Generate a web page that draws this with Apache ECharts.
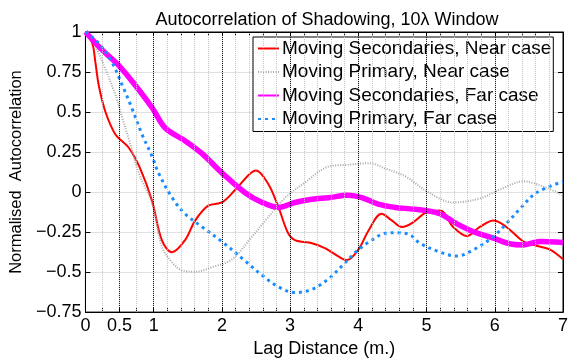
<!DOCTYPE html>
<html>
<head>
<meta charset="utf-8">
<script src="https://cdn.jsdelivr.net/npm/echarts@6/dist/echarts.min.js"></script>
<style>
html, body { margin: 0; padding: 0; background: #fff; }
#chart { width: 573px; height: 363px; }
</style>
</head>
<body>
<div id="chart"></div>
<script>
// lag distance (m.) and autocorrelation
var secNearLag = [0, 0.1, 0.146, 0.195, 0.29, 0.44, 0.63, 0.8, 0.976, 1.12, 1.27, 1.46, 1.61, 1.8, 2.0, 2.2, 2.4, 2.5, 2.68, 2.83, 2.97, 3.07, 3.32, 3.51, 3.7, 3.83, 4.0, 4.15, 4.34, 4.49, 4.64, 4.8, 5.0, 5.2, 5.39, 5.59, 5.78, 5.98, 6.17, 6.42, 6.61, 6.81, 7.0];
var secNearVal = [1, 0.93, 0.81, 0.667, 0.505, 0.36, 0.28, 0.15, -0.055, -0.30, -0.376, -0.30, -0.177, -0.085, -0.065, 0.016, 0.11, 0.135, 0.05, -0.096, -0.256, -0.30, -0.32, -0.35, -0.40, -0.425, -0.36, -0.24, -0.136, -0.177, -0.218, -0.19, -0.126, -0.116, -0.218, -0.274, -0.218, -0.177, -0.218, -0.309, -0.335, -0.36, -0.42];

var primNearLag = [0, 0.146, 0.29, 0.44, 0.54, 0.63, 0.78, 0.98, 1.12, 1.27, 1.42, 1.61, 1.85, 2.15, 2.42, 2.64, 2.93, 3.22, 3.56, 3.83, 4.17, 4.39, 4.69, 5.0, 5.39, 5.78, 6.1, 6.42, 6.76, 7.0];
var primNearVal = [1, 0.91, 0.77, 0.606, 0.463, 0.34, 0.12, -0.075, -0.34, -0.44, -0.49, -0.498, -0.47, -0.42, -0.29, -0.177, -0.035, 0.06, 0.159, 0.17, 0.18, 0.148, 0.098, 0.006, -0.065, -0.04, 0.02, 0.067, 0.026, -0.02];

var secFarLag = [0, 0.24, 0.49, 0.73, 0.98, 1.17, 1.46, 1.71, 2.0, 2.34, 2.59, 2.83, 3.07, 3.32, 3.56, 3.85, 4.05, 4.29, 4.54, 4.76, 5.0, 5.2, 5.44, 5.69, 5.98, 6.22, 6.42, 6.66, 7.0];
var secFarVal = [1, 0.89, 0.79, 0.667, 0.525, 0.40, 0.32, 0.24, 0.12, -0.004, -0.065, -0.096, -0.065, -0.045, -0.035, -0.02, -0.035, -0.075, -0.096, -0.105, -0.116, -0.136, -0.197, -0.248, -0.288, -0.323, -0.33, -0.309, -0.315];

var primFarLag = [0, 0.195, 0.39, 0.54, 0.68, 0.83, 0.98, 1.07, 1.27, 1.46, 1.71, 2.0, 2.34, 2.59, 2.83, 3.07, 3.32, 3.56, 3.81, 4.0, 4.2, 4.39, 4.59, 4.76, 4.9, 5.2, 5.44, 5.69, 5.98, 6.17, 6.37, 6.61, 7.0];
var primFarVal = [1, 0.93, 0.81, 0.667, 0.525, 0.36, 0.22, 0.12, -0.035, -0.136, -0.218, -0.309, -0.43, -0.52, -0.593, -0.628, -0.608, -0.543, -0.44, -0.36, -0.30, -0.258, -0.254, -0.268, -0.319, -0.376, -0.40, -0.36, -0.278, -0.197, -0.105, -0.004, 0.065];

var xLabels = [0, 0.5, 1, 2, 3, 4, 5, 6, 7];
var xMajorGrid = [0.5, 1, 2, 3, 4, 5, 6];
var xMinorGrid = [0.25, 0.75, 1.2, 1.4, 1.6, 1.8, 2.2, 2.4, 2.6, 2.8, 3.2, 3.4, 3.6, 3.8, 4.2, 4.4, 4.6, 4.8, 5.2, 5.4, 5.6, 5.8, 6.2, 6.4, 6.6, 6.8];
var xTicks = xLabels.concat(xMinorGrid);

var names = ['Moving Secondaries, Near case', 'Moving Primary, Near case', 'Moving Secondaries, Far case', 'Moving Primary, Far case'];

function pairs(xs, ys) {
    return xs.map(function (x, i) { return [x, ys[i]]; });
}

var font = 'Liberation Sans, Arial, Helvetica, sans-serif';
var chart = echarts.init(document.getElementById('chart'));

var vLines = xMinorGrid.map(function (x) {
    return { xAxis: x, lineStyle: { color: '#c4c4c4', type: 'dotted', width: 1 } };
}).concat(xMajorGrid.map(function (x) {
    return { xAxis: x, lineStyle: { color: '#000', type: 'dotted', width: 1 } };
}));

var option = {
    animation: false,
    backgroundColor: '#fff',
    textStyle: { fontFamily: font },
    title: {
        text: 'Autocorrelation of Shadowing, 10\u03bb Window',
        left: 322,
        textAlign: 'center',
        top: 6,
        textStyle: { fontFamily: font, fontSize: 18, fontWeight: 'normal', color: '#000' }
    },
    grid: { left: 85, right: 10, top: 32, bottom: 44, show: true, borderColor: '#000', borderWidth: 1 },
    legend: {
        data: names,
        orient: 'vertical',
        left: 253,
        top: 37,
        padding: [2, 2, 3, 4],
        itemWidth: 21,
        itemHeight: 12,
        itemGap: 4.5,
        backgroundColor: '#fff',
        borderColor: '#000',
        borderWidth: 1,
        itemStyle: { color: 'transparent', borderColor: 'transparent', borderWidth: 0 },
        textStyle: { fontFamily: font, fontSize: 19, color: '#000', padding: [0, 0, 0, -2] }
    },
    xAxis: [{
        type: 'value',
        min: 0,
        max: 7,
        name: 'Lag Distance (m.)',
        nameLocation: 'middle',
        nameGap: 23,
        nameTextStyle: { fontSize: 18, color: '#000' },
        axisLine: { onZero: false, lineStyle: { color: '#000' } },
        axisTick: { inside: true, length: 4, customValues: xTicks, lineStyle: { color: '#000' } },
        axisLabel: { customValues: xLabels, fontSize: 18, color: '#000', margin: 5 },
        splitLine: { show: false }
    }, {
        type: 'value',
        position: 'top',
        min: 0,
        max: 7,
        axisLine: { onZero: false, lineStyle: { color: '#000' } },
        axisTick: { inside: true, length: 4, customValues: xTicks, lineStyle: { color: '#000' } },
        axisLabel: { show: false },
        splitLine: { show: false }
    }],
    yAxis: [{
        type: 'value',
        min: -0.75,
        max: 1,
        interval: 0.25,
        name: 'Normalised  Autocorrelation',
        nameLocation: 'middle',
        nameGap: 57,
        nameTextStyle: { fontSize: 16.5, color: '#000' },
        axisLine: { show: true, onZero: false, lineStyle: { color: '#000' } },
        axisTick: { show: true, inside: true, length: 5, lineStyle: { color: '#000' } },
        axisLabel: {
            fontSize: 18,
            color: '#000',
            margin: 4,
            formatter: function (v) { return String(v).replace('-', '\u2212'); }
        },
        splitLine: { show: true, lineStyle: { color: '#c4c4c4', type: 'dotted' } }
    }, {
        type: 'value',
        position: 'right',
        min: -0.75,
        max: 1,
        interval: 0.25,
        axisLine: { show: true, onZero: false, lineStyle: { color: '#000' } },
        axisTick: { show: true, inside: true, length: 5, lineStyle: { color: '#000' } },
        axisLabel: { show: false },
        splitLine: { show: false }
    }],
    series: [
        {
            name: 'grid',
            type: 'line',
            data: [],
            z: 1,
            silent: true,
            markLine: { silent: true, symbol: ['none', 'none'], label: { show: false }, animation: false, data: vLines }
        },
        {
            name: names[0],
            type: 'line',
            smooth: 0.35,
            symbol: 'none',
            data: pairs(secNearLag, secNearVal),
            lineStyle: { color: '#ff0000', width: 2 },
            itemStyle: { color: '#ff0000' }
        },
        {
            name: names[1],
            type: 'line',
            smooth: 0.35,
            symbol: 'none',
            data: pairs(primNearLag, primNearVal),
            lineStyle: { color: '#a8a8a8', width: 2, type: [1, 1.5] },
            itemStyle: { color: '#a8a8a8' }
        },
        {
            name: names[2],
            type: 'line',
            smooth: 0.35,
            symbol: 'none',
            data: pairs(secFarLag, secFarVal),
            lineStyle: { color: '#ff00ff', width: 5.5 },
            itemStyle: { color: '#ff00ff' }
        },
        {
            name: names[3],
            type: 'line',
            smooth: 0.35,
            symbol: 'none',
            data: pairs(primFarLag, primFarVal),
            lineStyle: { color: '#1a8cff', width: 3, type: [3, 4] },
            itemStyle: { color: '#1a8cff' }
        }
    ]
};

chart.setOption(option);
</script>
</body>
</html>
